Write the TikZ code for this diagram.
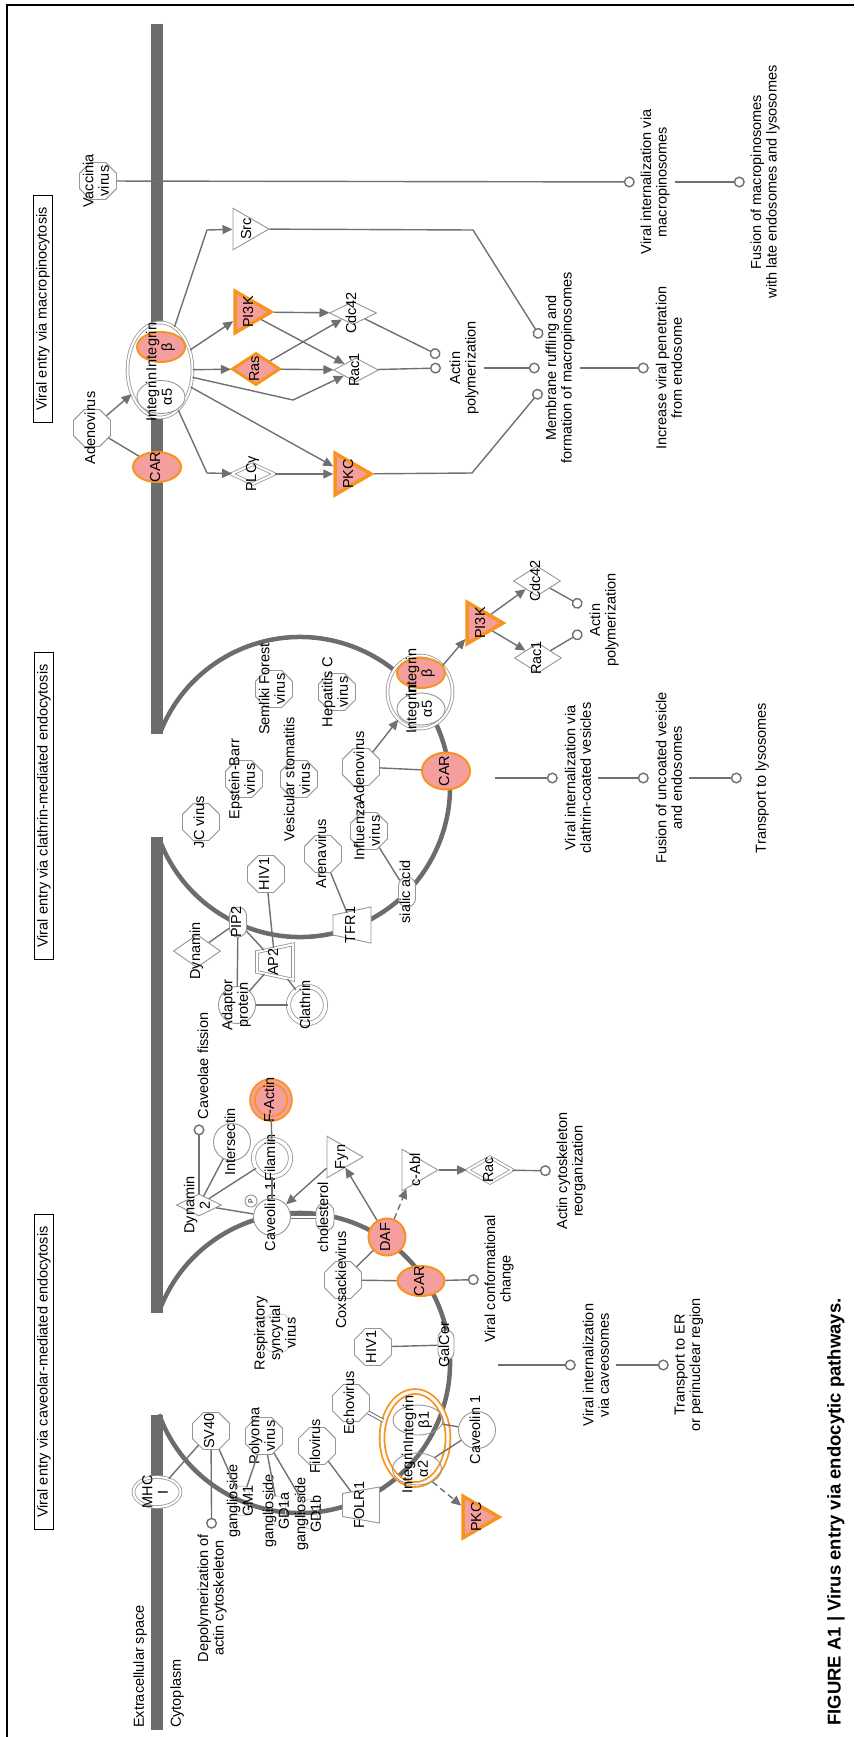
\documentclass[tikz,border=0pt]{standalone}
\usepackage{fontspec}
\setmainfont{Liberation Sans}
\usetikzlibrary{arrows.meta}
\usetikzlibrary{shapes.geometric,shapes.misc}
\definecolor{membgray}{RGB}{108,108,108}
\definecolor{edgegray}{RGB}{112,112,112}
\definecolor{linegray}{RGB}{150,150,150}
\definecolor{hitpink}{RGB}{245,158,158}
\definecolor{hitorange}{RGB}{247,148,30}
\newcommand{\ovl}[1]{\makebox[0pt]{\smash{\raisebox{-.25em}{\begin{tabular}{@{}c@{}}#1\end{tabular}}}}}
\newcommand{\ovt}[1]{\raisebox{-6pt}{\ovl{#1}}}
\tikzset{
    mybase/.style={rotate=90, inner sep=0pt, draw=linegray, fill=white, line width=0.9pt, font=\fontsize{14.5}{15.5}\selectfont},
    myvirus/.style={mybase, regular polygon, regular polygon sides=8, minimum size=40pt},
    myoval/.style={mybase, ellipse},
    mycircle/.style={mybase, circle, minimum size=37pt},
    mydiamond/.style={mybase, diamond},
    mykinase/.style={mybase, regular polygon, regular polygon sides=3, shape border rotate=180, minimum size=48pt},
    myreceptor/.style={mybase, trapezium, trapezium angle=78, inner xsep=10pt, inner ysep=19pt},
    mychem/.style={mybase, rounded rectangle},
    mydouble/.style={double=white, double distance=2pt, line width=0.8pt},
    mycomplex/.style={myoval, mydouble},
    myhit/.style={fill=hitpink, draw=hitorange, line width=2pt},
    myhitk/.style={fill=hitpink, draw=hitorange, line width=3.5pt},
    mylabel/.style={rotate=90, inner sep=5pt, minimum height=40pt, align=center, font=\fontsize{14.5}{15.5}\selectfont},
    mytext/.style={rotate=90, inner sep=0pt, font=\fontsize{14.5}{15.5}\selectfont},
    mytitle/.style={rotate=90, draw=black, line width=0.8pt, inner xsep=12pt, inner ysep=3pt, font=\fontsize{14.5}{15.5}\selectfont},
    myarrow/.style={->, draw=edgegray, line width=1.4pt},
    mylink/.style={draw=edgegray, line width=1.4pt},
    mydbllink/.style={draw=edgegray, double=white, double distance=2pt, line width=1pt},
    myproc/.style={-{Circle[open,length=11pt,width=11pt]}, draw=edgegray, line width=1.4pt},
    mydash/.style={dash pattern=on 6pt off 4pt},
    mymembrane/.style={draw=membgray, line width=12pt},
    myvesicle/.style={draw=membgray, line width=4.5pt}
}

\begin{document}
\begin{tikzpicture}[x=1pt,y=-1pt,>={Triangle[length=10pt,width=9pt]}]
    \useasboundingbox (0,0) rectangle (854,1737);
    \draw[line width=2pt] (7,1737) -- (7,5) -- (854,5);

    \draw[mymembrane] (157,24) -- (157,734);
    \draw[mymembrane] (157,837) -- (157,1313);
    \draw[mymembrane] (157,1415) -- (157,1730);
    \draw[myvesicle] (300,787) ++(159:150pt) arc[start angle=159, end angle=-159, radius=150pt];
    \draw[myvesicle] (300,1363) ++(160:150pt) arc[start angle=160, end angle=-160, radius=150pt];

    \node[mytitle] (t1) at (43,309) {Viral entry via macropinocytosis};
    \node[mytitle] (t2) at (44,806) {Viral entry via clathrin-mediated endocytosis};
    \node[mytitle] (t3) at (44,1372) {Viral entry via caveolar-mediated endocytosis};
    \node[mytext, anchor=west] (ext) at (140,1728) {Extracellular space};
    \node[mytext, anchor=west] (cyt) at (177,1728) {Cytoplasm};
    \node[rotate=90, font=\bfseries\fontsize{18.5}{20}\selectfont] (cap) at (836,1512) {FIGURE A1 | Virus entry via endocytic pathways.};

    % macropinocytosis
    \node[myvirus] (vac) at (98,181) {\ovl{Vaccinia\\virus}};
    \node[myvirus] (adm) at (92,428) {\ovl{Adenovirus}};
    \node[myoval, myhit, minimum width=30pt, minimum height=48pt] (carm) at (157,467) {\ovl{CAR}};
    \node[mycomplex, minimum width=95pt, minimum height=65pt] (intm) at (160,370) {};
    \node[myoval, myhit, minimum width=30pt, minimum height=48pt] (ibm) at (161,347) {\ovl{Integrin\\β}};
    \node[myoval, minimum width=33pt, minimum height=48pt] (iam) at (161,397) {\ovl{Integrin\\α5}};
    \node[mykinase] (src) at (245,229) {\ovt{Src}};
    \node[mykinase, myhitk] (pi3km) at (247,312) {\ovt{PI3K}};
    \node[mydiamond, myhitk, line width=3pt, minimum width=32pt, minimum height=48pt] (ras) at (256,369) {\ovl{Ras}};
    \node[mydiamond, minimum width=23pt, minimum height=47pt] (cdcm) at (353,313) {\ovl{Cdc42}};
    \node[mydiamond, minimum width=24pt, minimum height=45pt] (racm) at (356,370) {\ovl{Rac1}};
    \node[mydiamond, mydouble, minimum width=20pt, minimum height=43pt] (plc) at (253,474) {\ovl{PLCγ}};
    \node[mykinase, myhitk] (pkcm) at (347,474) {\ovt{PKC}};
    \node[mylabel] (vim) at (655,182) {Viral internalization via\\macropinosomes};
    \node[mylabel] (fum) at (765,182) {Fusion of macropinosomes\\with late endosomes and lysosomes};
    \node[mylabel] (acm) at (464,368) {Actin\\polymerization};
    \node[mylabel] (ruf) at (560,368) {Membrane ruffling and\\formation of macropinosomes};
    \node[mylabel] (inc) at (669,368) {Increase viral penetration\\from endosome};
    \coordinate (acm1) at (440,356);
    \coordinate (acm2) at (441,368);
    \coordinate (ruf1) at (541,338);
    \coordinate (ruf3) at (541,390);
    \path (adm) edge[myarrow] (intm)
          (adm) edge[mylink] (carm)
          (intm) edge[myarrow] (pi3km)
          (intm) edge[myarrow] (ras)
          (intm) edge[myarrow] (pkcm)
          (plc) edge[myarrow] (pkcm)
          (pi3km) edge[myarrow] (cdcm)
          (pi3km) edge[myarrow] (racm)
          (ras) edge[myarrow] (cdcm)
          (ras) edge[myarrow] (racm)
          (vac) edge[myproc] (vim)
          (vim) edge[myproc] (fum)
          (cdcm) edge[myproc] (acm1)
          (racm) edge[myproc] (acm2)
          (acm) edge[myproc] (ruf)
          (ruf) edge[myproc] (inc);
    \draw[myarrow] (intm) -- (207,230) -- (src);
    \draw[myarrow] (intm) -- (293,400) -- (racm);
    \draw[myarrow] (intm) -- (207,473) -- (plc);
    \draw[myproc] (src) -- (473,230) -- (ruf1);
    \draw[myproc] (pkcm) -- (472,473) -- (ruf3);

    % clathrin
    \node[myvirus] (jc) at (201,822) {\ovl{JC virus}};
    \node[myvirus] (ebv) at (244,779) {\ovl{Epstein-Barr\\virus}};
    \node[myvirus] (sfv) at (274,689) {\ovl{Semliki Forest\\virus}};
    \node[myvirus] (vsv) at (299,779) {\ovl{Vesicular stomatitis\\virus}};
    \node[myvirus] (hcv) at (337,692) {\ovl{Hepatitis C\\virus}};
    \node[myvirus] (adc) at (361,767) {\ovl{Adenovirus}};
    \node[myvirus] (are) at (323,854) {\ovl{Arenavirus}};
    \node[myvirus] (flu) at (369,831) {\ovl{Influenza\\virus}};
    \node[myvirus] (hivc) at (266,874) {\ovl{HIV1}};
    \node[mycomplex, minimum width=73pt, minimum height=65pt] (intc) at (420,692) {};
    \node[myoval, myhit, minimum width=30pt, minimum height=48pt] (ibc) at (421,673) {\ovl{Integrin\\β}};
    \node[myoval, minimum width=32pt, minimum height=48pt] (iac) at (421,709) {\ovl{Integrin\\α5}};
    \node[myoval, myhit, minimum width=37pt, minimum height=48pt] (carc) at (446,771) {\ovl{CAR}};
    \node[mykinase, myhitk] (pi3kc) at (479,623) {\ovt{PI3K}};
    \node[mydiamond, minimum width=30pt, minimum height=47pt] (cdcc) at (537,581) {\ovl{Cdc42}};
    \node[mydiamond, minimum width=30pt, minimum height=47pt] (racc) at (538,658) {\ovl{Rac1}};
    \node[mylabel] (acc) at (604,620) {Actin\\polymerization};
    \coordinate (acc1) at (582,606);
    \coordinate (acc2) at (582,632);
    \coordinate (vcla) at (495,778);
    \node[mylabel] (vic) at (578,778) {Viral internalization via\\clathrin-coated vesicles};
    \node[mylabel] (fuc) at (669,778) {Fusion of uncoated vesicle\\and endosomes};
    \node[mylabel] (trl) at (762,778) {Transport to lysosomes};
    \node[mydiamond, minimum width=33pt, minimum height=47pt] (dyn) at (197,951) {\ovl{Dynamin}};
    \node[mychem, minimum width=30pt, minimum height=17pt] (pip) at (238,922) {\ovl{PIP2}};
    \node[myreceptor, mydouble, inner ysep=18pt] (ap2) at (275,962) {\ovl{AP2}};
    \node[mycircle] (adp) at (237,1005) {\ovl{Adaptor\\protein}};
    \node[mycircle, mydouble, double distance=3.5pt] (cla) at (307,1005) {\ovl{Clathrin}};
    \node[myreceptor] (tfr) at (352,925) {\ovl{TFR1}};
    \node[mychem, minimum width=30pt, minimum height=17pt] (sia) at (407,892) {\ovl{sialic acid}};
    \path (adc) edge[myarrow] (intc)
          (adc) edge[mylink] (carc)
          (intc) edge[myarrow] (pi3kc)
          (pi3kc) edge[myarrow] (cdcc)
          (pi3kc) edge[myarrow] (racc)
          (cdcc) edge[myproc] (acc1)
          (racc) edge[myproc] (acc2)
          (vcla) edge[myproc] (vic)
          (vic) edge[myproc] (fuc)
          (fuc) edge[myproc] (trl)
          (dyn) edge[mylink] (pip)
          (pip) edge[mylink] (ap2)
          (pip) edge[mylink] (adp)
          (hivc) edge[mylink] (ap2)
          (ap2) edge[mylink] (adp)
          (ap2) edge[mylink] (cla)
          (adp) edge[mylink] (cla)
          (are) edge[mylink] (tfr)
          (flu) edge[mylink] (sia);

    % caveolae
    \node[mydiamond, minimum width=22pt, minimum height=45pt] (dyn2) at (199,1205) {\ovl{Dynamin\\2}};
    \node[mycircle] (itsn) at (232,1142) {\ovl{Intersectin}};
    \node[mycircle, mydouble, double distance=3.5pt] (flm) at (272,1158) {\ovl{Filamin}};
    \node[mycircle, myhit, double=hitpink, double distance=3pt, line width=1.8pt] (fact) at (271,1100) {\ovl{F-Actin}};
    \node[mycircle] (cav) at (272,1217) {\ovl{Caveolin 1}};
    \node[mybase, circle, minimum size=12pt, font=\fontsize{7}{8}\selectfont] (pho) at (251,1201) {P};
    \node[mylabel] (cfi) at (203,1066) {Caveolae fission};
    \node[mychem, minimum width=28pt, minimum height=18pt] (chol) at (325,1217) {\ovl{cholesterol}};
    \node[mykinase] (fyn) at (339,1157) {\ovt{Fyn}};
    \node[mycircle, myhit] (daf) at (387,1237) {\ovl{DAF}};
    \node[mykinase] (abl) at (414,1170) {\ovt{c-Abl}};
    \node[mydiamond, mydouble, minimum width=26pt, minimum height=45pt] (racv) at (490,1170) {\ovl{Rac}};
    \node[mylabel] (acr) at (571,1171) {Actin cytoskeleton\\reorganization};
    \node[myoval, myhit, minimum width=30pt, minimum height=47pt] (carv) at (421,1281) {\ovl{CAR}};
    \node[mylabel] (vcc) at (499,1279) {Viral conformational\\change};
    \node[myvirus] (cox) at (343,1280) {\ovl{Coxsackievirus}};
    \node[myvirus, draw=linegray!45] (rsv) at (277,1333) {\ovl{Respiratory\\syncytial\\virus}};
    \node[myvirus] (hivv) at (373,1347) {\ovl{HIV1}};
    \node[mychem, minimum width=30pt, minimum height=16pt] (gal) at (446,1345) {\ovl{GalCer}};
    \node[myvirus] (echo) at (351,1403) {\ovl{Echovirus}};
    \node[mycomplex, fill=none, draw=hitorange, line width=1.8pt, double distance=3pt, minimum width=93pt, minimum height=66pt] (intv) at (415,1438) {};
    \node[myoval, fill=none, minimum width=30pt, minimum height=50pt] (ib1) at (418,1420) {\ovl{Integrin\\β1}};
    \node[myoval, fill=none, minimum width=32pt, minimum height=49pt] (ia2) at (417,1469) {\ovl{Integrin\\α2}};
    \node[mycircle] (cavb) at (477,1430) {\ovl{Caveolin 1}};
    \node[mykinase, myhitk] (pkcv) at (475,1517) {\ovt{PKC}};
    \node[myreceptor, trapezium angle=80, inner xsep=11.5pt, inner ysep=18.5pt] (folr) at (361,1505) {\ovl{FOLR1}};
    \node[myvirus] (filo) at (317,1446) {\ovl{Filovirus}};
    \node[myvirus] (sv40) at (211,1431) {\ovl{SV40}};
    \node[myoval, mydouble, minimum width=30pt, minimum height=47pt] (mhc) at (157,1492) {\ovl{MHC\\I}};
    \node[myvirus] (poly) at (264,1436) {\ovl{Polyoma\\virus}};
    \node[mychem, fill=none, draw=linegray!45, minimum width=30pt, minimum height=15pt] (gm1) at (242,1501) {\ovl{ganglioside\\GM1}};
    \node[mychem, fill=none, draw=linegray!45, minimum width=30pt, minimum height=15pt] (gd1a) at (278,1511) {\ovl{ganglioside\\GD1a}};
    \node[mychem, fill=none, draw=linegray!45, minimum width=30pt, minimum height=15pt] (gd1b) at (310,1514) {\ovl{ganglioside\\GD1b}};
    \node[mylabel] (dep) at (212,1598) {Depolymerization of\\actin cytoskeleton};
    \coordinate (vcav) at (498,1365);
    \node[mylabel] (vcv) at (596,1365) {Viral internalization\\via caveosomes};
    \node[mylabel] (ter) at (689,1365) {Transport to ER\\or perinuclear region};
    \path (dyn2) edge[mylink] (itsn)
          (dyn2) edge[mylink] (flm)
          (dyn2) edge[mylink] (cav)
          (flm) edge[mylink] (fact)
          (cav) edge[mylink] (flm)
          (cav) edge[mydbllink] (chol)
          (fyn) edge[myarrow] (cav)
          (daf) edge[myarrow] (fyn)
          (daf) edge[myarrow, mydash] (abl)
          (abl) edge[myarrow] (racv)
          (racv) edge[myproc] (acr)
          (carv) edge[myproc] (vcc)
          (cox) edge[mylink] (carv)
          (cox) edge[mylink] (daf)
          (hivv) edge[mylink] (gal)
          (echo) edge[mydbllink] (intv)
          (ib1) edge[mylink] (cavb)
          (ia2) edge[mylink] (cavb)
          (ia2) edge[myarrow, mydash] (pkcv)
          (filo) edge[mylink] (folr)
          (sv40) edge[mylink] (mhc)
          (sv40) edge[myproc] (dep)
          (sv40) edge[mylink] (gm1)
          (poly) edge[mylink] (gm1)
          (poly) edge[mylink] (gd1a)
          (poly) edge[mylink] (gd1b)
          (vcav) edge[myproc] (vcv)
          (vcv) edge[myproc] (ter);
    \draw[myproc] (dyn2) -- (dyn2 |- cfi.west);
\end{tikzpicture}
\end{document}
